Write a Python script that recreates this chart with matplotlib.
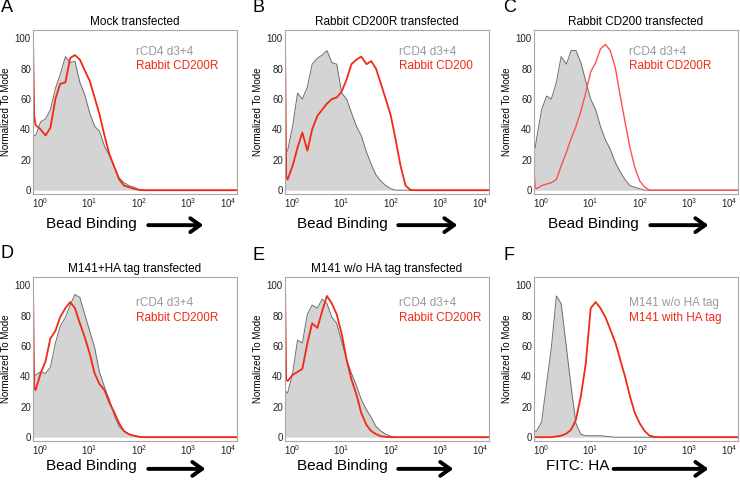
import matplotlib.pyplot as plt
import numpy as np

plt.rcParams['font.family'] = 'Liberation Sans'
plt.rcParams['mathtext.fontset'] = 'custom'
plt.rcParams['mathtext.rm'] = 'Liberation Sans'
plt.rcParams['mathtext.default'] = 'regular'

# channel values (bead binding / FITC), shared by all histograms
canal = [0.70, 0.74, 0.79, 1.0, 1.26, 1.58, 2.0, 2.5, 3.2, 4.0, 5.0, 6.3, 7.9, 10,
         12.6, 15.8, 20, 25, 32, 40, 50, 63, 79, 100, 126, 158, 200, 251, 316, 10000]

# histograms (normalized to mode)
cinzaA = [35, 36, 36, 45, 47, 53, 67, 76, 88, 84, 85, 71, 63, 51, 42, 39, 29, 23, 15, 8, 5, 3, 2, 0.5, 0, 0, 0, 0, 0, 0]
vermA = [100, 49, 43, 40, 36, 41, 60, 70, 71, 87, 89, 86, 79, 72, 61, 50, 36, 24, 15, 7, 3, 2, 1, 0.3, 0, 0, 0, 0, 0, 0]

cinzaB = [24, 25, 26, 42, 64, 60, 68, 83, 87, 89, 92, 84, 83, 64, 60, 51, 42, 36, 25, 17, 10, 6, 3, 1, 0, 0, 0, 0, 0, 0]
vermB = [100, 9, 7, 16, 28, 38, 26, 40, 49, 53, 57, 60, 61, 65, 73, 83, 86, 88, 83, 85, 80, 70, 60, 49, 33, 16, 3, 0.2, 0, 0]

cinzaC = [27, 28, 34, 53, 62, 60, 71, 88, 83, 92, 92, 84, 72, 60, 53, 42, 33, 27, 18, 12, 7, 3, 2, 1, 0, 0, 0, 0, 0, 0]
vermC = [13, 2, 1, 3, 4, 5, 7, 16, 25, 34, 42, 52, 64, 78, 84, 93, 96, 92, 80, 62, 45, 28, 15, 6, 2, 0, 0, 0, 0, 0]

cinzaD = [38, 40, 41, 43, 42, 46, 62, 73, 79, 87, 94, 92, 81, 70, 59, 43, 33, 25, 14, 7, 4, 2, 1, 0.3, 0, 0, 0, 0, 0, 0]
vermD = [100, 33, 31, 42, 50, 65, 70, 79, 85, 89, 85, 75, 66, 55, 42, 35, 31, 23, 16, 9, 4, 2, 1, 0.3, 0, 0, 0, 0, 0, 0]

cinzaE = [30, 30, 29, 42, 64, 62, 81, 87, 85, 91, 88, 79, 75, 63, 51, 42, 34, 25, 18, 13, 7, 4, 2, 0.6, 0, 0, 0, 0, 0, 0]
vermE = [100, 38, 37, 41, 43, 45, 62, 75, 72, 83, 93, 88, 81, 68, 51, 38, 28, 16, 8, 4, 2, 0.6, 0.2, 0, 0, 0, 0, 0, 0, 0]

cinzaF = [5, 4, 4, 10, 35, 59, 93, 88, 59, 33, 9, 2, 1, 1, 1, 1, 0.6, 0.3, 0, 0, 0, 0, 0, 0, 0, 0, 0, 0, 0, 0]
vermF = [0, 0, 0, 0, 0, 0, 0.5, 1, 2.4, 5, 11.5, 27, 48, 85, 89, 85, 79, 71, 62, 51, 40, 27, 16, 9, 4, 1, 0.2, 0, 0, 0]

titulos = ["Mock transfected", "Rabbit CD200R transfected", "Rabbit CD200 transfected",
           "M141+HA tag transfected", "M141 w/o HA tag transfected", ""]
letras = ["A", "B", "C", "D", "E", "F"]
leg_cinza = ["rCD4 d3+4"] * 5 + ["M141 w/o HA tag"]
leg_verm = ["Rabbit CD200R", "Rabbit CD200", "Rabbit CD200R", "Rabbit CD200R",
            "Rabbit CD200R", "M141 with HA tag"]
eixo_x = ["Bead Binding"] * 5 + ["FITC: HA"]
xticks = [1, 10, 100, 1000, 10000]
xtick_labels = ["$10^{0}$", "$10^{1}$", "$10^{2}$", "$10^{3}$", "$10^{4}$"]
yticks = [0, 20, 40, 60, 80, 100]

cinzas = [cinzaA, cinzaB, cinzaC, cinzaD, cinzaE, cinzaF]
vermelhos = [vermA, vermB, vermC, vermD, vermE, vermF]

# layout (pixels in a 740x482 figure)
W, H = 740.0, 482.0
esquerdas = [33, 285, 534, 33, 285, 534]
topos = [30, 30, 30, 277, 277, 277]
largura, altura = 204, 164
letra_pos = [(1, 8), (253, 8), (503, 8), (1, 254), (253, 256), (503, 256)]
leg_x = [0.505, 0.56, 0.466, 0.505, 0.56, 0.466]
texto_x = [0.285, 0.28, 0.29, 0.285, 0.28, 0.215]
seta = [(0.565, 0.835), (0.555, 0.845), (0.57, 0.855), (0.565, 0.845), (0.555, 0.825), (0.39, 0.855)]

vermelho = "#f02a14"

fig = plt.figure(figsize=(7.4, 4.82), dpi=100)

for i in range(6):
    ax = fig.add_axes([esquerdas[i] / W, 1 - (topos[i] + altura) / H, largura / W, altura / H])
    ax.fill_between(canal, 0, cinzas[i], color="#d4d4d4", lw=0)
    ax.plot(canal, cinzas[i], color="#6e6e6e", lw=0.7)
    if i == 2:
        ax.plot(canal, vermelhos[i], color="#ff5050", lw=1.0)
    else:
        ax.plot(canal, vermelhos[i], color=vermelho, lw=1.3)

    ax.set_xscale("log")
    ax.set_xlim(0.7, 10000)
    ax.set_ylim(-2.5, 105.5)
    ax.set_xticks(xticks)
    ax.set_xticklabels(xtick_labels)
    ax.minorticks_off()
    ax.get_xticklabels()[-1].set_horizontalalignment("right")
    ax.set_yticks(yticks)
    ax.tick_params(axis="both", length=0, labelsize=7, colors="#222222")
    ax.tick_params(axis="x", pad=1.5)
    ax.tick_params(axis="y", pad=1.5)
    for s in ax.spines.values():
        s.set_color("#a8a8a8")
        s.set_linewidth(0.8)

    ax.set_ylabel("Normalized To Mode", fontsize=7, labelpad=3)
    if titulos[i]:
        ax.set_title(titulos[i], fontsize=8.5, pad=3.5)

    # legenda
    topo = i < 3
    ax.text(leg_x[i], 0.866 if topo else 0.842, leg_cinza[i], color="#999999",
            fontsize=8.5, va="center", transform=ax.transAxes)
    ax.text(leg_x[i], 0.78 if topo else 0.752, leg_verm[i], color=vermelho,
            fontsize=8.5, va="center", transform=ax.transAxes)

    # rotulo do eixo x com seta
    ty = -0.18 if topo else -0.155
    ay = -0.19 if topo else -0.17
    ax.text(texto_x[i], ty, eixo_x[i], fontsize=11, ha="center", va="center",
            transform=ax.transAxes)
    ax.annotate("", xy=(seta[i][1], ay), xytext=(seta[i][0], ay),
                xycoords="axes fraction", textcoords="axes fraction",
                arrowprops=dict(arrowstyle="->,head_length=0.35,head_width=0.25",
                                lw=2.8, color="black", mutation_scale=20,
                                shrinkA=0, shrinkB=0))

    fig.text(letra_pos[i][0] / W, 1 - letra_pos[i][1] / H, letras[i],
             fontsize=13, va="center", ha="left")

fig.savefig("out.png", dpi=100)
